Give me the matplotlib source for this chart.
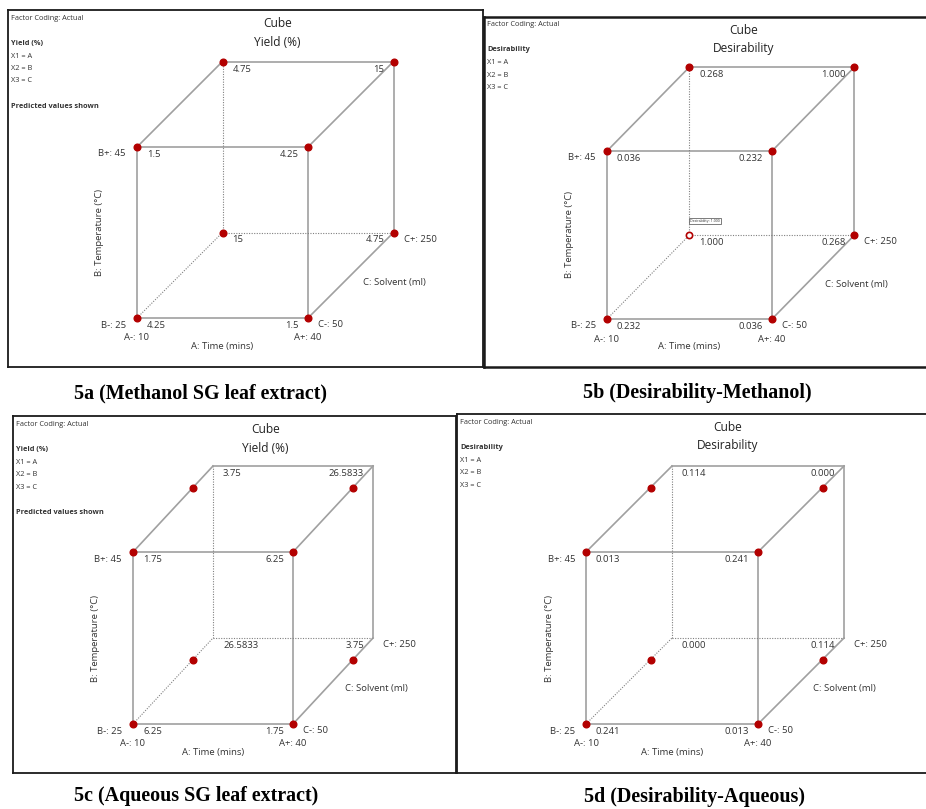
import numpy as np
import matplotlib.pyplot as plt

# --- corner design (coded levels), order: A fastest, then B, then C ---
corner_A = np.array([-1, 1, -1, 1, -1, 1, -1, 1])
corner_B = np.array([-1, -1, 1, 1, -1, -1, 1, 1])
corner_C = np.array([-1, -1, -1, -1, 1, 1, 1, 1])

# predicted values printed at each corner
yield_methanol = ["4.25", "1.5", "1.5", "4.25", "15", "4.75", "4.75", "15"]
desir_methanol = ["0.232", "0.036", "0.036", "0.232", "1.000", "0.268", "0.268", "1.000"]
yield_aqueous = ["6.25", "1.75", "1.75", "6.25", "26.5833", "3.75", "3.75", "26.5833"]
desir_aqueous = ["0.241", "0.013", "0.013", "0.241", "0.000", "0.114", "0.114", "0.000"]

# C level of the red design points (aqueous runs sit part way along C)
points_C_methanol = [-1, -1, -1, -1, 1, 1, 1, 1]
points_C_aqueous = [-1, -1, -1, -1, 0.5, 0.5, 0.5, 0.5]

A_labels = ["A-: 10", "A+: 40"]
B_labels = ["B-: 25", "B+: 45"]
C_labels = ["C-: 50", "C+: 250"]
A_name = "A: Time (mins)"
B_name = "B: Temperature (°C)"
C_name = "C: Solvent (ml)"

FIG_W, FIG_H = 926, 809
PT = 72 / 100.0  # points per pixel at dpi 100

plt.rcParams['font.family'] = ['Open Sans', 'DejaVu Sans']
fig = plt.figure(figsize=(FIG_W / 100, FIG_H / 100), dpi=100)

EDGE_COL = '#a0a0a0'
DOT_COL = '#b30000'


def project(a, b, c):
    return a + 0.5 * (c + 1), b + 0.5 * (c + 1)


def draw_cube(box, fbl, w, h, response, values, points_C, predicted,
              hollow=None, border_lw=1.3):
    left, top, right, bottom = box
    fx, fy = fbl
    sx, sy = w / 2.0, h / 2.0
    ax = fig.add_axes([left / FIG_W, 1 - bottom / FIG_H,
                       (right - left) / FIG_W, (bottom - top) / FIG_H])
    ax.set_xlim(-1 + (left - fx) / sx, -1 + (right - fx) / sx)
    ax.set_ylim(-1 + (fy - bottom) / sy, -1 + (fy - top) / sy)
    ax.set_xticks([])
    ax.set_yticks([])
    for s in ax.spines.values():
        s.set_linewidth(border_lw)
        s.set_color('#1a1a1a')

    # edges: corners that differ in exactly one factor
    for i in range(8):
        for j in range(i + 1, 8):
            diff = (int(corner_A[i] != corner_A[j]) + int(corner_B[i] != corner_B[j])
                    + int(corner_C[i] != corner_C[j]))
            if diff != 1:
                continue
            x0, y0 = project(corner_A[i], corner_B[i], corner_C[i])
            x1, y1 = project(corner_A[j], corner_B[j], corner_C[j])
            hidden = 4 in (i, j)
            if hidden:
                ax.plot([x0, x1], [y0, y1], color='#808080', lw=0.8, ls=(0, (1, 1.3)), zorder=1)
            else:
                ax.plot([x0, x1], [y0, y1], color=EDGE_COL, lw=1.2, zorder=1)

    # design points
    for k in range(8):
        px, py = project(corner_A[k], corner_B[k], points_C[k])
        if hollow == k:
            ax.plot(px, py, 'o', ms=4.5, mfc='white', mec=DOT_COL, mew=1.2, zorder=3)
        else:
            ax.plot(px, py, 'o', ms=4.8, color=DOT_COL, zorder=3)

    # corner values
    for k in range(8):
        cx, cy = project(corner_A[k], corner_B[k], corner_C[k])
        if corner_A[k] < 0:
            ax.annotate(values[k], (cx, cy), xytext=(10 * PT, -7.5 * PT), textcoords='offset points',
                        ha='left', va='center', fontsize=6.8, color='#333333')
        else:
            ax.annotate(values[k], (cx, cy), xytext=(-9 * PT, -7.5 * PT), textcoords='offset points',
                        ha='right', va='center', fontsize=6.8, color='#333333')

    # factor level labels
    tk = dict(textcoords='offset points', fontsize=6.8, color='#333333')
    for b in (0, 1):
        ax.annotate(B_labels[b], project(-1, 2 * b - 1, -1), xytext=(-11 * PT, -7 * PT),
                    ha='right', va='center', **tk)
    for a in (0, 1):
        ax.annotate(A_labels[a], project(2 * a - 1, -1, -1), xytext=(0, -20 * PT),
                    ha='center', va='center', **tk)
    for c in (0, 1):
        ax.annotate(C_labels[c], project(1, -1, 2 * c - 1), xytext=(10 * PT, -6.5 * PT),
                    ha='left', va='center', **tk)
    ax.annotate(A_name, project(0, -1, -1), xytext=(0, -28 * PT), ha='center', va='center', **tk)
    ax.annotate(B_name, project(-1, 0, -1), xytext=(-37 * PT, 0), ha='center', va='center',
                rotation=90, **tk)
    ax.annotate(C_name, project(1, -1, 0), xytext=(12 * PT, -7 * PT), ha='left', va='center', **tk)

    # header
    cube_mid = project(0, 1, 0)[0]
    ytop = ax.get_ylim()[1]
    ax.annotate("Cube", (cube_mid, ytop), xytext=(12.5 * PT, -13.5 * PT), textcoords='offset points',
                ha='center', va='center', fontsize=8.6, color='#222222')
    ax.annotate(response, (cube_mid, ytop), xytext=(12.5 * PT, -32 * PT), textcoords='offset points',
                ha='center', va='center', fontsize=8.6, color='#222222')

    # legend block at top left
    lg = dict(xycoords='axes fraction', textcoords='offset points', ha='left', va='center',
              fontsize=5.3, color='#333333')
    ax.annotate("Factor Coding: Actual", (0, 1), xytext=(3 * PT, -8 * PT), **lg)
    ax.annotate(response, (0, 1), xytext=(3 * PT, -33 * PT), fontweight='bold', **lg)
    for n, txt in enumerate(["X1 = A", "X2 = B", "X3 = C"]):
        ax.annotate(txt, (0, 1), xytext=(3 * PT, -(46 + 12.5 * n) * PT), **lg)
    if predicted:
        ax.annotate("Predicted values shown", (0, 1), xytext=(3 * PT, -97 * PT), fontweight='bold', **lg)

    if hollow is not None:
        hx, hy = project(corner_A[hollow], corner_B[hollow], corner_C[hollow])
        ax.annotate("Desirability: 1.000", (hx, hy), xytext=(1 * PT, 14 * PT), textcoords='offset points',
                    ha='left', va='center', fontsize=2.6, color='#333333',
                    bbox=dict(boxstyle='square,pad=0.3', fc='white', ec='#666666', lw=0.6))
    return ax


draw_cube((8, 10, 483, 367), (137, 318), 171, 171, "Yield (%)", yield_methanol,
          points_C_methanol, True)
draw_cube((484, 17, 928, 367), (607, 319), 165, 168, "Desirability", desir_methanol,
          points_C_methanol, False, hollow=4, border_lw=1.8)
draw_cube((13, 416, 456, 773), (133, 724), 160, 172, "Yield (%)", yield_aqueous,
          points_C_aqueous, True)
draw_cube((457, 414, 928, 773), (586, 724), 172, 172, "Desirability", desir_aqueous,
          points_C_aqueous, False)

captions = ["5a (Methanol SG leaf extract)", "5b (Desirability-Methanol)",
            "5c (Aqueous SG leaf extract)", "5d (Desirability-Aqueous)"]
cap_pos = [(200, 393), (697, 393), (196, 796), (695, 797)]
for txt, (cx, cy) in zip(captions, cap_pos):
    fig.text(cx / FIG_W, 1 - cy / FIG_H, txt, ha='center', va='center', fontsize=14.4,
             fontweight='bold', family=['Liberation Serif', 'DejaVu Serif'])

fig.savefig('out.png', dpi=100)
